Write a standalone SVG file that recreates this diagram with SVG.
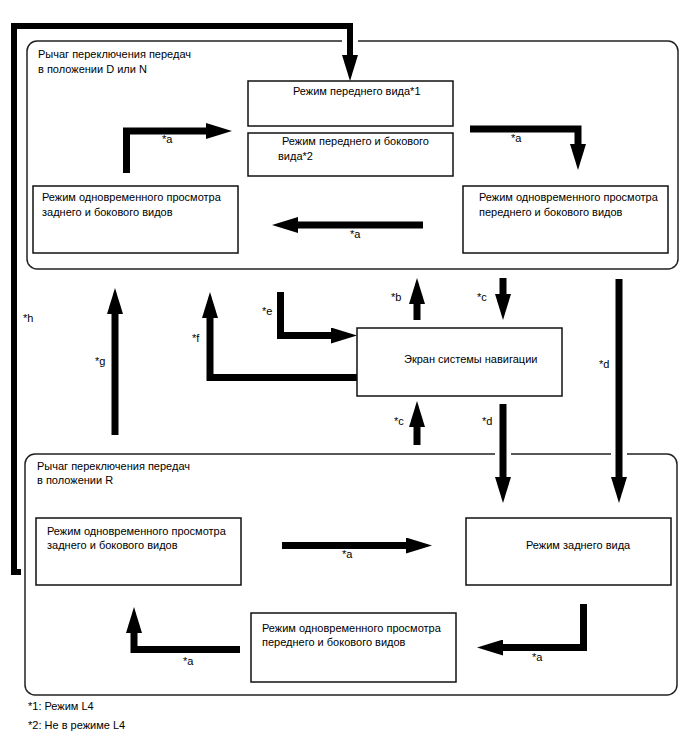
<svg xmlns="http://www.w3.org/2000/svg" width="688" height="755" viewBox="0 0 688 755">
<style>
text{font-family:"Liberation Sans",Arial,sans-serif;font-size:11px;fill:#000}
.grp{fill:none;stroke:#222;stroke-width:1.5}
.box{fill:#fff;stroke:#111;stroke-width:1.5}
.ar{fill:none;stroke:#000;stroke-width:7;stroke-linejoin:miter;marker-end:url(#ah)}
.gap{fill:none;stroke:#fff;stroke-width:16}
</style>
<defs>
<marker id="ah" markerUnits="userSpaceOnUse" markerWidth="26" markerHeight="16" viewBox="0 0 26 16" refX="1" refY="8" orient="auto"><path d="M0,0 L26,8 L0,16 z" fill="#000"/></marker>
</defs>
<rect fill="#fff" x="0" y="0" width="688" height="755"/>
<g id="group-dn">
<rect class="grp" x="27" y="41" width="651" height="228" rx="10"/>
<text x="38" y="58">Рычаг переключения передач</text>
<text x="38" y="73">в положении D или N</text>
</g>
<g id="group-r">
<rect class="grp" x="25" y="454" width="652" height="241" rx="10"/>
<text x="37" y="470">Рычаг переключения передач</text>
<text x="37" y="484">в положении R</text>
</g>
<g id="connectors">
<path class="gap" d="M350,36 V46"/>
<path class="gap" d="M503,449 V459"/>
<path class="gap" d="M619,449 V459"/>
<path class="ar" style="stroke-width:6" d="M21,572 H14 V26 H350 V56"/>
<path class="ar" d="M126.5,173 V131 H207"/>
<path class="ar" d="M470,129 H578 V145"/>
<path class="ar" d="M423,225 H297"/>
<path class="ar" d="M417,320 V303"/>
<path class="ar" d="M503,278 V295"/>
<path class="ar" d="M417,445 V426"/>
<path class="ar" d="M503,404 V478"/>
<path class="ar" d="M619,279 V478"/>
<path class="ar" d="M280.5,292 V335.5 H332"/>
<path class="ar" d="M357,377.5 H210 V317"/>
<path class="ar" d="M115,435 V313"/>
<path class="ar" d="M282,545.5 H407"/>
<path class="ar" d="M583.5,604 V647.5 H502"/>
<path class="ar" d="M240,649.5 H134 V632"/>
<text x="23" y="322">*h</text>
<text x="162" y="143">*a</text>
<text x="511" y="142">*a</text>
<text x="350" y="238">*a</text>
<text x="391" y="301">*b</text>
<text x="477" y="301">*c</text>
<text x="394" y="425">*c</text>
<text x="482" y="425">*d</text>
<text x="599" y="368">*d</text>
<text x="262" y="315">*e</text>
<text x="192" y="342">*f</text>
<text x="95" y="365">*g</text>
<text x="342" y="558">*a</text>
<text x="532" y="661">*a</text>
<text x="183" y="665">*a</text>
</g>
<g id="front-view">
<rect class="box" x="248" y="81" width="205" height="45"/>
<text x="293" y="95">Режим переднего вида*1</text>
</g>
<g id="front-side-view">
<rect class="box" x="248" y="133" width="205" height="43"/>
<text x="282" y="145">Режим переднего и бокового</text>
<text x="278" y="160">вида*2</text>
</g>
<g id="dn-rear-side">
<rect class="box" x="33" y="186" width="205" height="67"/>
<text x="42" y="201">Режим одновременного просмотра</text>
<text x="42" y="216">заднего и бокового видов</text>
</g>
<g id="dn-front-side">
<rect class="box" x="463" y="186" width="205" height="67"/>
<text x="479" y="201">Режим одновременного просмотра</text>
<text x="479" y="216">переднего и бокового видов</text>
</g>
<g id="nav">
<rect class="box" x="357" y="328" width="205" height="68"/>
<text x="404" y="363">Экран системы навигации</text>
</g>
<g id="r-rear-side">
<rect class="box" x="36" y="518" width="205" height="67"/>
<text x="47" y="535">Режим одновременного просмотра</text>
<text x="47" y="549">заднего и бокового видов</text>
</g>
<g id="r-rear">
<rect class="box" x="466" y="518" width="205" height="67"/>
<text x="526" y="549">Режим заднего вида</text>
</g>
<g id="r-front-side">
<rect class="box" x="251" y="613" width="205" height="69"/>
<text x="262" y="632">Режим одновременного просмотра</text>
<text x="262" y="646">переднего и бокового видов</text>
</g>
<g id="notes">
<text x="28" y="710">*1: Режим L4</text>
<text x="28" y="729">*2: Не в режиме L4</text>
</g>
</svg>
